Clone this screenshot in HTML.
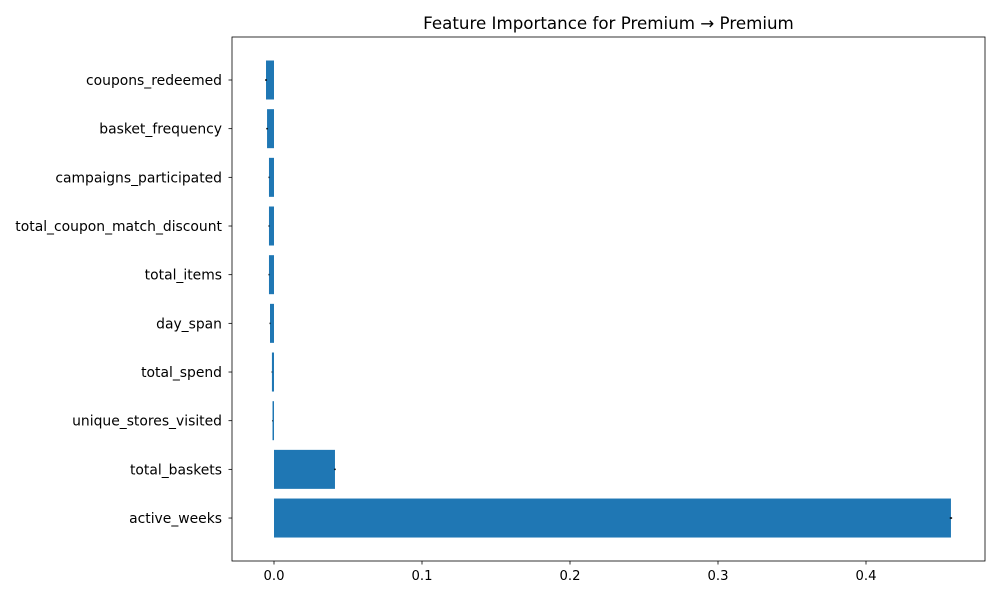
<!DOCTYPE html>
<html><head><meta charset="utf-8"><style>
body{margin:0;background:#fff;font-family:"Liberation Sans","DejaVu Sans",sans-serif}
svg text{font-family:"DejaVu Sans","Liberation Sans",sans-serif;fill:#000}
</style></head><body>
<svg id="chart" width="1000" height="600" xmlns="http://www.w3.org/2000/svg">
<text x="608.5" y="29" font-size="16.7" text-anchor="middle">Feature Importance for Premium → Premium</text>
<g id="plot"></g>
</svg>
<script>
const features = ["coupons_redeemed","basket_frequency","campaigns_participated","total_coupon_match_discount","total_items","day_span","total_spend","unique_stores_visited","total_baskets","active_weeks"];
const importances = [-0.0054,-0.0047,-0.0034,-0.0034,-0.0034,-0.0027,-0.0014,-0.001,0.0412,0.4574];
const errors = [0.0006,0.0005,0.0003,0.0003,0.0003,0.0003,0.0002,0.0002,0.0005,0.0008];
const xTicks = [0.0,0.1,0.2,0.3,0.4];
const xTickLabels = ["0.0","0.1","0.2","0.3","0.4"];

const L=232,R=985,T=37,B=561;
const xs=v=>274+v*1480;
const yc=i=>80+i*48.67;
const NS="http://www.w3.org/2000/svg";
const g=document.getElementById('plot');
function mk(t,a){const e=document.createElementNS(NS,t);for(const k in a)e.setAttribute(k,a[k]);g.appendChild(e);return e;}
features.forEach((f,i)=>{
  const v=importances[i];
  const x0=Math.min(xs(0),xs(v)),w=Math.abs(xs(v)-xs(0));
  const b=mk('rect',{x:x0,y:yc(i)-19.5,width:Math.max(w,1),height:39,fill:'#1f77b4'});
  
  
  const e=mk('line',{x1:xs(v-errors[i]),x2:xs(v+errors[i]),y1:yc(i),y2:yc(i),stroke:'#000','stroke-width':1.5});
  
  
  const tk=mk('line',{x1:L-3.5,x2:L,y1:yc(i),y2:yc(i),stroke:'#000','stroke-width':0.8});
  
  
  const t=mk('text',{x:L-10,y:yc(i)+5,'font-size':13.9,'text-anchor':'end'});
  t.textContent=f;
  
  
});
xTicks.forEach((v,i)=>{
  const tk=mk('line',{x1:xs(v),x2:xs(v),y1:B,y2:B+3.5,stroke:'#000','stroke-width':0.8});
  
  
  const t=mk('text',{x:xs(v),y:B+19,'font-size':13.2,'text-anchor':'middle'});
  t.textContent=xTickLabels[i];
  
  
});
const fr=mk('rect',{x:L,y:T,width:R-L,height:B-T,fill:'none',stroke:'#000','stroke-width':0.8});


</script>
</body></html>
